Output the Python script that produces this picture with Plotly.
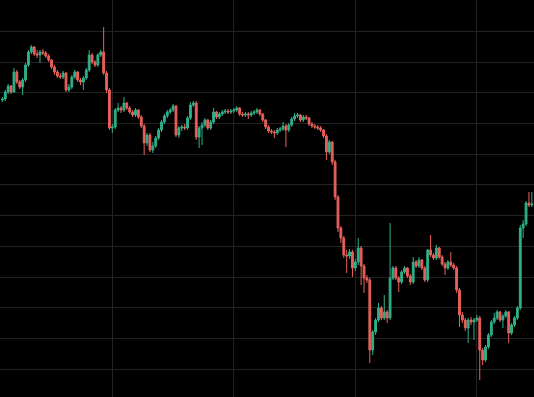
import pandas as pd
import plotly.graph_objects as go

# 4-hour candles
start_time = "2023-02-27 16:00"
n_candles = 184

open_ = [300, 301, 308, 314, 308, 328, 318, 313, 320, 335, 348, 353, 346, 345, 348, 347, 344, 340, 333, 328,
         324, 323, 327, 310, 313, 323, 328, 320, 318, 322, 330, 345, 338, 335, 345, 348, 327, 310, 272, 273,
         290, 292, 290, 297, 292, 288, 285, 290, 283, 274, 257, 265, 250, 254, 262, 270, 278, 284, 288, 290,
         294, 265, 272, 273, 272, 282, 295, 297, 263, 272, 275, 280, 272, 278, 288, 283, 286, 288, 289, 288,
         289, 290, 292, 286, 285, 286, 285, 287, 288, 290, 286, 280, 273, 269, 268, 267, 270, 271, 274, 270,
         275, 281, 284, 285, 280, 283, 282, 276, 274, 273, 272, 270, 264, 248, 258, 238, 203, 172, 162, 145,
         144, 148, 132, 138, 152, 134, 122, 120, 50, 68, 80, 92, 82, 88, 82, 122, 132, 122, 118, 128,
         132, 124, 118, 138, 134, 140, 132, 120, 150, 145, 142, 152, 143, 136, 132, 138, 135, 132, 110, 85,
         80, 72, 80, 78, 80, 82, 50, 40, 53, 65, 78, 82, 88, 80, 84, 88, 67, 75, 82, 92,
         172, 176, 197, 195]
close = [301, 308, 314, 308, 328, 318, 313, 320, 335, 348, 353, 346, 345, 348, 347, 344, 340, 333, 328, 324,
         323, 327, 310, 313, 323, 328, 320, 318, 322, 330, 345, 338, 335, 345, 348, 327, 310, 272, 273, 290,
         292, 290, 297, 292, 288, 285, 290, 283, 274, 257, 265, 250, 254, 262, 270, 278, 284, 288, 290, 294,
         265, 272, 273, 272, 282, 295, 297, 263, 272, 275, 280, 272, 278, 288, 283, 286, 288, 289, 288, 289,
         290, 292, 286, 285, 286, 285, 287, 288, 290, 286, 280, 273, 269, 268, 267, 270, 271, 274, 270, 275,
         281, 284, 285, 280, 283, 282, 276, 274, 273, 272, 270, 264, 248, 258, 238, 203, 172, 162, 145, 144,
         148, 132, 138, 152, 134, 122, 120, 50, 68, 80, 92, 82, 88, 82, 122, 132, 122, 118, 128, 132,
         124, 118, 138, 134, 140, 132, 120, 150, 145, 142, 152, 143, 136, 132, 138, 135, 132, 110, 85, 80,
         72, 80, 78, 80, 82, 50, 40, 53, 65, 78, 82, 88, 80, 84, 88, 67, 75, 82, 92, 172,
         176, 197, 195, 196]
high = [303, 310, 316, 315, 332, 330, 320, 322, 337, 350, 355, 354, 350, 350, 351, 349, 346, 341, 335, 330,
        327, 329, 328, 316, 325, 330, 329, 322, 324, 332, 350, 347, 340, 347, 350, 373, 329, 312, 276, 292,
        297, 294, 303, 298, 294, 290, 292, 291, 285, 276, 267, 267, 258, 264, 272, 280, 286, 290, 292, 296,
        295, 274, 275, 276, 284, 298, 299, 299, 274, 278, 282, 281, 280, 292, 289, 288, 290, 291, 291, 291,
        292, 294, 293, 288, 288, 288, 289, 290, 292, 291, 287, 281, 275, 271, 270, 272, 273, 278, 276, 277,
        283, 287, 287, 286, 285, 285, 283, 278, 276, 275, 274, 271, 266, 260, 259, 240, 205, 174, 164, 150,
        151, 150, 141, 162, 154, 136, 125, 122, 70, 82, 97, 94, 105, 90, 177, 134, 134, 124, 130, 134,
        133, 126, 143, 140, 143, 141, 134, 151, 165, 147, 155, 153, 145, 138, 140, 148, 137, 134, 112, 88,
        82, 82, 83, 82, 85, 84, 52, 55, 67, 80, 87, 90, 89, 86, 90, 89, 77, 84, 94, 175,
        180, 199, 208, 208]
low = [298, 299, 306, 306, 307, 316, 311, 305, 318, 333, 346, 344, 342, 337, 345, 342, 338, 331, 325, 322,
       321, 321, 308, 308, 311, 321, 318, 315, 310, 320, 328, 336, 333, 333, 343, 325, 307, 270, 267, 271,
       288, 287, 288, 290, 286, 283, 283, 281, 272, 245, 254, 248, 247, 252, 260, 268, 276, 282, 286, 288,
       263, 262, 269, 270, 270, 280, 293, 260, 252, 255, 273, 270, 270, 276, 281, 281, 284, 286, 286, 286,
       287, 288, 284, 283, 283, 281, 283, 285, 286, 284, 278, 271, 267, 266, 262, 265, 268, 269, 253, 268,
       273, 279, 282, 278, 278, 280, 274, 272, 271, 270, 268, 262, 240, 246, 235, 200, 168, 157, 142, 127,
       141, 123, 129, 135, 115, 107, 117, 37, 45, 65, 78, 80, 80, 77, 80, 120, 120, 108, 116, 126,
       122, 115, 116, 132, 132, 130, 118, 118, 143, 140, 140, 141, 134, 125, 130, 133, 130, 107, 73, 77,
       69, 57, 75, 60, 78, 20, 35, 38, 51, 63, 76, 80, 78, 72, 82, 57, 65, 73, 80, 90,
       162, 174, 193, 193]

up_color = "#2fb08a"
down_color = "#e8605a"
bg_color = "#000000"
grid_color = "#222222"

dates = pd.date_range(start_time, periods=n_candles, freq="4h")

fig = go.Figure(go.Candlestick(
    x=dates, open=open_, high=high, low=low, close=close,
    increasing=dict(line=dict(color=up_color, width=1), fillcolor=up_color),
    decreasing=dict(line=dict(color=down_color, width=1), fillcolor=down_color),
    whiskerwidth=0,
    hoverinfo="skip",
))

x_start = dates[0] - pd.Timedelta(hours=3.3)
x_end = dates[-1] + pd.Timedelta(hours=3.0)

fig.update_layout(
    width=534, height=397,
    margin=dict(l=0, r=0, t=0, b=0, pad=0),
    paper_bgcolor=bg_color, plot_bgcolor=bg_color,
    showlegend=False,
    boxgap=0.3, boxgroupgap=0.1,
    xaxis=dict(
        type="date", range=[x_start, x_end],
        rangeslider=dict(visible=False),
        showgrid=True, gridcolor=grid_color, gridwidth=1,
        tick0="2023-03-06", dtick=7 * 24 * 3600 * 1000,
        showticklabels=False, ticks="", showline=False, zeroline=False,
    ),
    yaxis=dict(
        range=[3, 400],
        showgrid=True, gridcolor=grid_color, gridwidth=1,
        tick0=30.7, dtick=30.73,
        showticklabels=False, ticks="", showline=False, zeroline=False,
    ),
)

fig.write_html("out.html")
